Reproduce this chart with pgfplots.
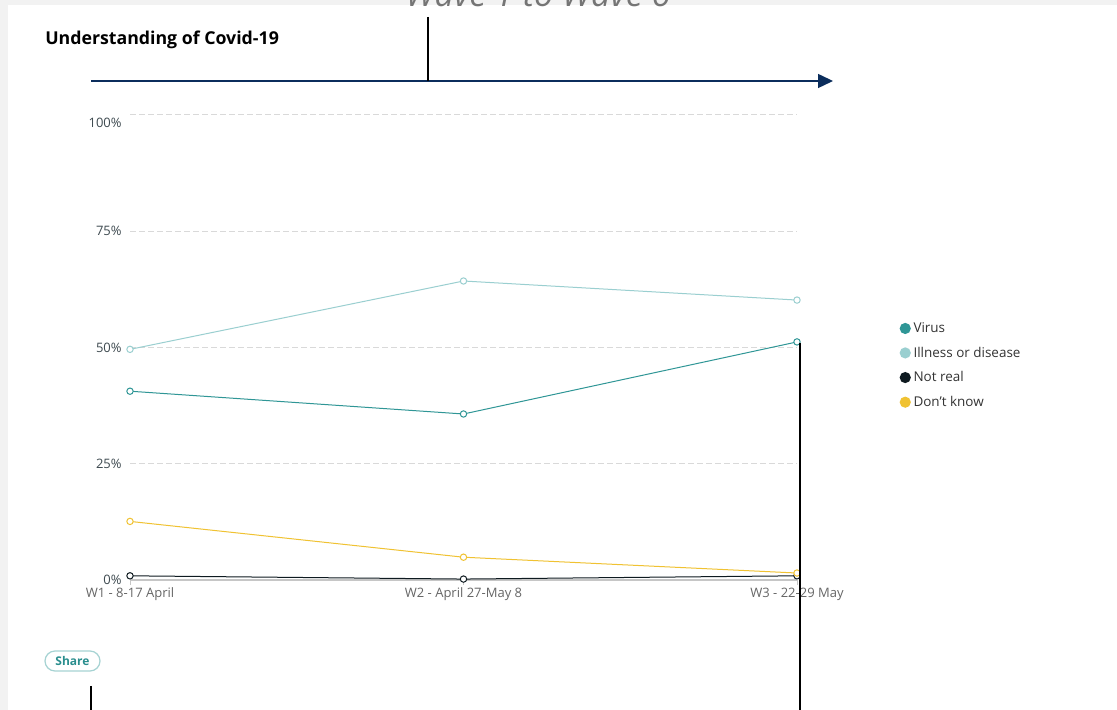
\documentclass[border=0pt]{standalone}
\usepackage{pgfplots}
\pgfplotsset{compat=1.18}
\usepackage{fontspec}
\setmainfont{Open Sans}
\usetikzlibrary{arrows.meta}

\definecolor{virus}{HTML}{2F9696}
\definecolor{illness}{HTML}{9ACFD0}
\definecolor{notreal}{HTML}{0E1A20}
\definecolor{dontknow}{HTML}{F0C232}
\definecolor{navy}{HTML}{0B2D5C}
\definecolor{bggray}{HTML}{F2F2F2}
\definecolor{gridgray}{HTML}{D9D9D9}
\definecolor{basegray}{HTML}{C6C6C6}
\definecolor{ticktext}{HTML}{666666}
\definecolor{ylabtext}{HTML}{3E4A50}
\definecolor{legtext}{HTML}{333333}
\definecolor{sharetext}{HTML}{2A8E8E}
\definecolor{shareline}{HTML}{A6D3D3}

\begin{document}
\begin{tikzpicture}
\useasboundingbox (0,0) rectangle (837.75pt,532.5pt);
\clip (0,0) rectangle (837.75pt,532.5pt);

% card and headings, in pixel coordinates from the top left
\begin{scope}[x=0.75pt,y=-0.75pt,shift={(0,532.5pt)}]
  \fill[bggray] (0,0) rectangle (1117,710);
  \fill[white] (8,5) rectangle (1117,710);
  \node[anchor=base, inner sep=0, text=ticktext!90,
        font=\itshape\fontsize{25.5}{30}\selectfont] at (538,7) {Wave 1 to Wave 6};
  \node[anchor=base west, inner sep=0,
        font=\bfseries\fontsize{13.3}{15}\selectfont] at (45,45) {Understanding of Covid-19};
\end{scope}

\begin{axis}[
  at={(97.5pt,97.5pt)}, anchor=south west,
  scale only axis, width=500.25pt, height=348.75pt,
  xmin=0, xmax=2, ymin=0, ymax=100,
  clip=false,
  axis x line*=bottom, axis y line*=left,
  y axis line style={draw=none},
  x axis line style={draw=basegray, line width=1pt, -},
  xtick={0,1,2},
  xticklabels={W1 - 8-17 April, W2 - April 27-May 8, W3 - 22-29 May},
  ytick={0,25,50,75,100},
  yticklabels={0\%, 25\%, 50\%, 75\%, \raisebox{-9.5pt}[0pt][0pt]{100\%}},
  tick align=outside,
  major tick length=3.75pt,
  x tick style={draw=basegray, line width=0.75pt},
  y tick style={draw=none},
  ymajorgrids,
  grid style={draw=gridgray, line width=0.75pt, dash pattern=on 4.5pt off 2.25pt},
  x tick label style={font=\fontsize{9.75}{11}\selectfont, text=ticktext, yshift=1.5pt},
  y tick label style={font=\fontsize{9.75}{11}\selectfont, text=ylabtext, xshift=1pt},
  every axis plot/.append style={line width=0.75pt, mark=*, mark size=2.4pt},
  legend image code/.code={\fill[#1, draw=none] (4pt,0pt) circle (4.2pt);},
  legend style={at={(axis cs:2.307,56.0)}, anchor=north west, draw=none, fill=none,
    inner sep=0pt, row sep=5.3pt, font=\fontsize{10.1}{12}\selectfont, text=legtext},
  legend cell align=left,
]
\addplot[virus, mark options={fill=white, draw=virus}, forget plot]
  coordinates {(0,40.6) (1,35.7) (2,51.2)};
\addplot[illness, mark options={fill=white, draw=illness}, forget plot]
  coordinates {(0,49.6) (1,64.3) (2,60.2)};
\addplot[notreal, mark options={fill=white, draw=notreal}, forget plot]
  coordinates {(0,0.9) (1,0.2) (2,0.9)};
\addplot[dontknow, mark options={fill=white, draw=dontknow}, forget plot]
  coordinates {(0,12.6) (1,4.9) (2,1.5)};

\addlegendimage{fill=virus}
\addlegendentry{Virus}
\addlegendimage{fill=illness}
\addlegendentry{Illness or disease}
\addlegendimage{fill=notreal}
\addlegendentry{Not real}
\addlegendimage{fill=dontknow}
\addlegendentry{Don't know}
\end{axis}

% arrow, markers and share button on top
\begin{scope}[x=0.75pt,y=-0.75pt,shift={(0,532.5pt)}]
  \draw[navy, line width=1.1pt, -{Triangle[length=11.25pt,width=10.5pt]}] (91,81) -- (833,81);
  \draw[black, line width=1.5pt] (428,17) -- (428,81);
  \draw[black, line width=2pt] (800,343) -- (800,710);
  \draw[black, line width=1.5pt] (91,686) -- (91,710);
  \draw[shareline, line width=0.9pt, fill=white, rounded corners=7.5pt] (45,651) rectangle (100,671);
  \node[font=\bfseries\fontsize{9}{10}\selectfont, text=sharetext, inner sep=0] at (72.5,661.5) {Share};
\end{scope}
\end{tikzpicture}
\end{document}
